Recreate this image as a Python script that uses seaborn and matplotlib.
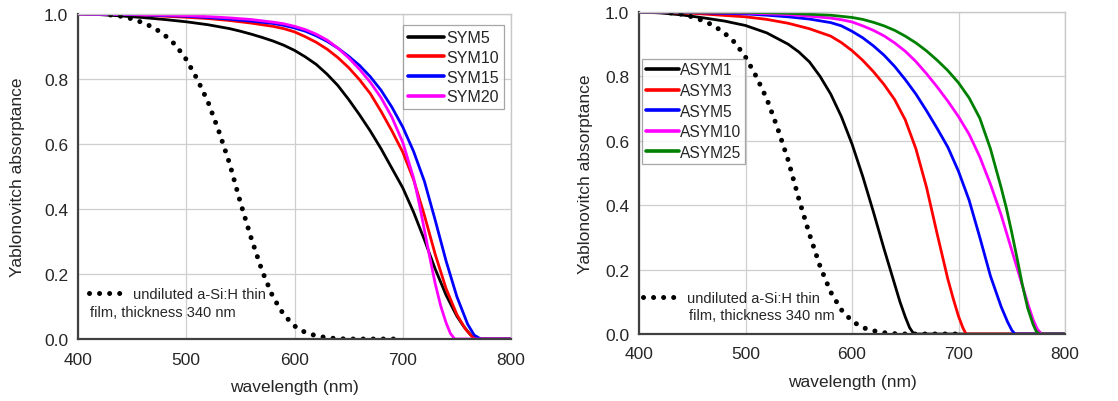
import numpy as np
import pandas as pd
import matplotlib
matplotlib.use("Agg")
import matplotlib.pyplot as plt
from matplotlib.ticker import MultipleLocator
from matplotlib.lines import Line2D
import seaborn as sns

# ---------------- data ----------------
film_wl = [430, 440, 450, 460, 470, 480, 490, 500, 510, 520, 530, 540, 550, 560,
           570, 580, 590, 600, 610, 620, 630, 640, 650, 700]
film_A = [0.997, 0.993, 0.985, 0.973, 0.958, 0.935, 0.905, 0.86, 0.80, 0.73, 0.64,
          0.54, 0.42, 0.31, 0.21, 0.13, 0.075, 0.04, 0.02, 0.01, 0.004, 0.001, 0.0, 0.0]
film_label_1 = "undiluted a-Si:H thin"
film_label_2 = "film, thickness 340 nm"

sym_names = ["SYM5", "SYM10", "SYM15", "SYM20"]
sym5_wl = [400, 420, 440, 460, 480, 500, 520, 540, 550, 560, 570, 580, 590, 600, 610, 620, 630,
           640, 650, 660, 670, 680, 690, 700, 710, 720, 730, 740, 750, 756, 762, 767, 800]
sym5_A = [1.0, 0.998, 0.994, 0.989, 0.983, 0.976, 0.967, 0.955, 0.947, 0.938, 0.928, 0.917,
          0.904, 0.888, 0.868, 0.845, 0.815, 0.78, 0.737, 0.69, 0.64, 0.585, 0.525, 0.465,
          0.39, 0.305, 0.215, 0.135, 0.07, 0.04, 0.015, 0.0, 0.0]
sym10_wl = [400, 450, 500, 520, 540, 560, 580, 590, 600, 610, 620, 630, 640, 650, 660, 670,
            680, 690, 700, 710, 720, 730, 740, 750, 758, 764, 768, 800]
sym10_A = [1.0, 0.998, 0.99, 0.986, 0.98, 0.972, 0.962, 0.955, 0.945, 0.93, 0.913, 0.892,
           0.866, 0.835, 0.798, 0.755, 0.70, 0.64, 0.575, 0.49, 0.38, 0.26, 0.155, 0.075,
           0.03, 0.008, 0.0, 0.0]
sym15_wl = [400, 450, 500, 520, 540, 560, 580, 590, 600, 610, 620, 630, 640, 650, 660, 670,
            680, 690, 700, 710, 720, 730, 740, 750, 760, 766, 772, 800]
sym15_A = [1.0, 0.998, 0.993, 0.989, 0.984, 0.978, 0.971, 0.965, 0.957, 0.947, 0.933, 0.916,
           0.895, 0.87, 0.842, 0.807, 0.765, 0.713, 0.652, 0.577, 0.485, 0.365, 0.24, 0.13,
           0.045, 0.012, 0.0, 0.0]
sym20_wl = [400, 450, 500, 520, 540, 560, 580, 590, 600, 610, 620, 630, 640, 650, 660, 670,
            680, 690, 700, 710, 715, 720, 725, 730, 735, 740, 744, 748, 800]
sym20_A = [1.0, 0.999, 0.995, 0.992, 0.988, 0.983, 0.975, 0.97, 0.962, 0.952, 0.938, 0.92,
           0.895, 0.865, 0.83, 0.79, 0.742, 0.682, 0.605, 0.495, 0.42, 0.335, 0.25, 0.17,
           0.102, 0.05, 0.017, 0.0, 0.0]

asym_names = ["ASYM1", "ASYM3", "ASYM5", "ASYM10", "ASYM25"]
asym1_wl = [400, 420, 440, 460, 480, 500, 520, 540, 550, 560, 570, 580, 590, 600, 610, 620,
            630, 640, 645, 650, 654, 658, 800]
asym1_A = [1.0, 0.997, 0.991, 0.982, 0.972, 0.958, 0.935, 0.90, 0.876, 0.845, 0.80, 0.745,
           0.675, 0.59, 0.49, 0.38, 0.265, 0.155, 0.10, 0.053, 0.02, 0.0, 0.0]
asym3_wl = [400, 450, 500, 520, 540, 560, 580, 590, 600, 610, 620, 630, 640, 650, 660, 670,
            680, 690, 695, 700, 704, 707, 800]
asym3_A = [1.0, 0.996, 0.985, 0.977, 0.965, 0.948, 0.925, 0.905, 0.88, 0.85, 0.815, 0.775,
           0.728, 0.665, 0.575, 0.455, 0.31, 0.17, 0.11, 0.055, 0.02, 0.0, 0.0]
asym5_wl = [400, 450, 500, 520, 540, 560, 580, 590, 600, 610, 620, 630, 640, 650, 660, 670,
            680, 690, 700, 710, 720, 730, 740, 746, 750, 753, 800]
asym5_A = [1.0, 0.998, 0.994, 0.99, 0.985, 0.978, 0.967, 0.957, 0.94, 0.92, 0.895, 0.866,
           0.831, 0.79, 0.745, 0.693, 0.638, 0.58, 0.505, 0.415, 0.30, 0.18, 0.085, 0.038,
           0.012, 0.0, 0.0]
asym10_wl = [400, 500, 540, 560, 580, 590, 600, 610, 620, 630, 640, 650, 660, 670, 680, 690,
             700, 710, 720, 730, 740, 745, 750, 755, 760, 765, 770, 774, 778, 800]
asym10_A = [1.0, 0.997, 0.992, 0.987, 0.981, 0.976, 0.969, 0.957, 0.943, 0.926, 0.904, 0.878,
            0.846, 0.808, 0.767, 0.723, 0.675, 0.62, 0.55, 0.465, 0.37, 0.315, 0.26, 0.205,
            0.15, 0.095, 0.045, 0.015, 0.0, 0.0]
asym25_wl = [400, 500, 540, 580, 600, 610, 620, 630, 640, 650, 660, 670, 680, 690, 700, 710,
             720, 730, 740, 745, 750, 755, 760, 765, 770, 773, 776, 800]
asym25_A = [1.0, 0.999, 0.996, 0.99, 0.983, 0.977, 0.968, 0.957, 0.943, 0.925, 0.904, 0.879,
            0.85, 0.818, 0.78, 0.733, 0.67, 0.575, 0.455, 0.39, 0.315, 0.235, 0.152, 0.08,
            0.03, 0.008, 0.0, 0.0]

sym_colors = ["#000000", "#ff0000", "#0000ff", "#ff00ff"]
asym_colors = ["#000000", "#ff0000", "#0000ff", "#ff00ff", "#008000"]

x_ticks = [400, 500, 600, 700, 800]
y_ticks = [0.0, 0.2, 0.4, 0.6, 0.8, 1.0]
xlabel = "wavelength (nm)"
ylabel = "Yablonovitch absorptance"

# ---------------- build long tables ----------------
def long_df(names, wls, vals):
    parts = []
    for n, w, v in zip(names, wls, vals):
        parts.append(pd.DataFrame({"wavelength": w, "A": v, "series": n}))
    return pd.concat(parts, ignore_index=True)

df_sym = long_df(sym_names, [sym5_wl, sym10_wl, sym15_wl, sym20_wl],
                 [sym5_A, sym10_A, sym15_A, sym20_A])
df_asym = long_df(asym_names, [asym1_wl, asym3_wl, asym5_wl, asym10_wl, asym25_wl],
                  [asym1_A, asym3_A, asym5_A, asym10_A, asym25_A])
df_film = pd.DataFrame({"wavelength": film_wl, "A": film_A})

# ---------------- style ----------------
sns.set_style("white")
plt.rcParams["font.family"] = ["Liberation Sans", "DejaVu Sans"]
plt.rcParams["font.size"] = 12

fig = plt.figure(figsize=(11.18, 4.02), dpi=100)
ax1 = fig.add_axes([0.0698, 0.1542, 0.3873, 0.8085])
ax2 = fig.add_axes([0.5716, 0.1667, 0.381, 0.801])

dot_style = dict(color="black", lw=3.6, linestyle=(0, (0.01, 2.0)),
                 dash_capstyle="round", solid_capstyle="round")

def style_axes(ax, ylabelpad):
    ax.set_xlim(400, 800)
    ax.set_ylim(0, 1.0)
    ax.set_xticks(x_ticks)
    ax.set_yticks(y_ticks)
    ax.set_yticklabels([f"{v:.1f}" for v in y_ticks])
    ax.xaxis.set_minor_locator(MultipleLocator(50))
    ax.yaxis.set_minor_locator(MultipleLocator(0.1))
    ax.grid(True, which="major", color="#cfcfcf", lw=0.9)
    ax.set_axisbelow(True)
    for s in ["top", "right"]:
        ax.spines[s].set_color("#c8c8c8")
        ax.spines[s].set_linewidth(1.0)
    for s in ["left", "bottom"]:
        ax.spines[s].set_color("#404040")
        ax.spines[s].set_linewidth(1.6)
    ax.tick_params(axis="both", which="major", direction="out", length=4, width=1.3,
                   color="#404040", labelsize=12.5)
    ax.tick_params(axis="x", which="major", pad=5)
    ax.tick_params(axis="y", which="major", pad=3)
    ax.tick_params(axis="both", which="minor", direction="inout", length=3, width=1.0,
                   color="#808080")
    ax.tick_params(top=False, right=False, which="both")
    ax.set_xlabel(xlabel, fontsize=12.5, labelpad=9)
    ax.set_ylabel(ylabel, fontsize=12.5, labelpad=ylabelpad)

# left panel
sns.lineplot(data=df_sym, x="wavelength", y="A", hue="series", hue_order=sym_names,
             palette=dict(zip(sym_names, sym_colors)), lw=2.0, ax=ax1, sort=False,
             estimator=None)
ax1.plot(df_film["wavelength"], df_film["A"], **dot_style)
style_axes(ax1, 14)
h, l = ax1.get_legend_handles_labels()
leg1 = ax1.legend(h[:4], l[:4], loc="upper right", bbox_to_anchor=(0.99, 0.975),
                  fontsize=11.5, handlelength=2.3, handletextpad=0.1, labelspacing=0.3,
                  borderpad=0.3, frameon=True, fancybox=False, edgecolor="#909090",
                  borderaxespad=0.2)
leg1.get_frame().set_linewidth(0.9)
for ln in leg1.get_lines():
    ln.set_linewidth(2.6)

# right panel
sns.lineplot(data=df_asym, x="wavelength", y="A", hue="series", hue_order=asym_names,
             palette=dict(zip(asym_names, asym_colors)), lw=2.0, ax=ax2, sort=False,
             estimator=None)
ax2.plot(df_film["wavelength"], df_film["A"], **dot_style)
style_axes(ax2, 9)
h, l = ax2.get_legend_handles_labels()
leg2 = ax2.legend(h[:5], l[:5], loc="upper left", bbox_to_anchor=(0.0, 0.865),
                  fontsize=11.2, handlelength=2.1, handletextpad=0.08, labelspacing=0.36,
                  borderpad=0.25, frameon=True, fancybox=False, edgecolor="#909090",
                  borderaxespad=0.2)
leg2.get_frame().set_linewidth(0.9)
for ln in leg2.get_lines():
    ln.set_linewidth(2.6)

# film annotation (legend-like)
for ax, leg, (x0, y0), (tx2, ty2) in [(ax1, leg1, (0.025, 0.138), (0.028, 0.083)),
                                       (ax2, leg2, (0.01, 0.112), (0.118, 0.058))]:
    hd = Line2D([], [], **dot_style)
    ax.legend([hd], [film_label_1], loc="center left", bbox_to_anchor=(x0, y0),
              frameon=False, fontsize=10.5, handlelength=2.6, handletextpad=0.4,
              borderaxespad=0.0, borderpad=0.0)
    ax.text(tx2, ty2, film_label_2, transform=ax.transAxes, fontsize=10.5,
            va="center", ha="left")
    ax.add_artist(leg)

fig.savefig("out.png", dpi=100)
